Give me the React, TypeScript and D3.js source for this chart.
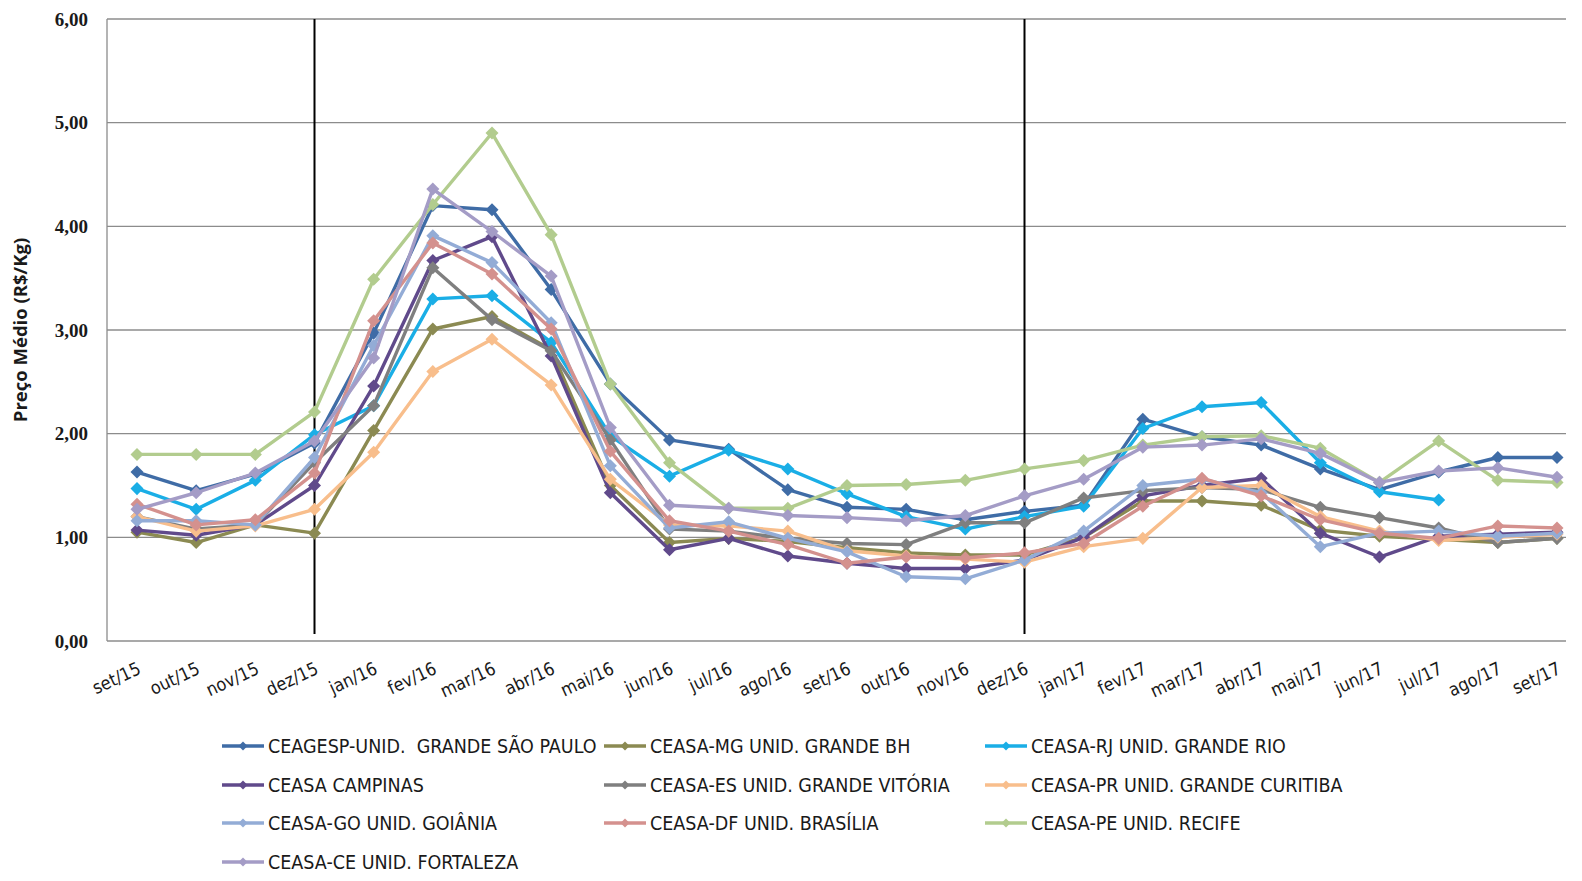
import * as d3 from 'd3';

const months = [
  'set/15', 'out/15', 'nov/15', 'dez/15', 'jan/16', 'fev/16', 'mar/16', 'abr/16',
  'mai/16', 'jun/16', 'jul/16', 'ago/16', 'set/16', 'out/16', 'nov/16', 'dez/16',
  'jan/17', 'fev/17', 'mar/17', 'abr/17', 'mai/17', 'jun/17', 'jul/17', 'ago/17', 'set/17',
];

const yTicks = [0, 1, 2, 3, 4, 5, 6];
const markerMonths = ['dez/15', 'dez/16'];

const saoPaulo = [1.63, 1.45, 1.61, 1.91, 2.97, 4.2, 4.16, 3.39, 2.48, 1.94, 1.85, 1.46, 1.29, 1.27, 1.17, 1.25, 1.31, 2.14, 1.97, 1.89, 1.66, 1.46, 1.63, 1.77, 1.77];
const beloHorizonte = [1.05, 0.95, 1.12, 1.04, 2.03, 3.01, 3.13, 2.81, 1.5, 0.95, 0.99, 0.96, 0.9, 0.85, 0.83, 0.83, 1.0, 1.35, 1.35, 1.31, 1.07, 1.01, 0.98, 0.95, 0.99];
const rio = [1.47, 1.27, 1.55, 1.99, 2.27, 3.3, 3.33, 2.88, 1.98, 1.59, 1.84, 1.66, 1.42, 1.2, 1.08, 1.2, 1.3, 2.05, 2.26, 2.3, 1.72, 1.44, 1.36, null, null];
const campinas = [1.07, 1.02, 1.12, 1.5, 2.46, 3.67, 3.9, 2.75, 1.43, 0.88, 0.99, 0.82, 0.75, 0.7, 0.7, 0.78, 1.0, 1.4, 1.5, 1.57, 1.04, 0.81, 1.01, 1.03, 1.05];
const vitoria = [1.2, 1.08, 1.12, 1.72, 2.27, 3.6, 3.1, 2.8, 1.94, 1.08, 1.06, 0.99, 0.94, 0.93, 1.14, 1.14, 1.38, 1.45, 1.48, 1.46, 1.29, 1.19, 1.09, 0.95, 0.99];
const curitiba = [1.2, 1.06, 1.11, 1.27, 1.82, 2.6, 2.91, 2.47, 1.56, 1.12, 1.11, 1.06, 0.87, 0.82, 0.79, 0.76, 0.91, 0.99, 1.48, 1.5, 1.2, 1.06, 0.97, 1.0, 1.03];
const goiania = [1.16, 1.16, 1.12, 1.77, 2.85, 3.91, 3.65, 3.07, 1.69, 1.09, 1.15, 0.99, 0.86, 0.62, 0.6, 0.78, 1.06, 1.5, 1.56, 1.43, 0.91, 1.04, 1.06, 1.01, 1.04];
const brasilia = [1.32, 1.12, 1.17, 1.62, 3.09, 3.84, 3.54, 3.01, 1.83, 1.16, 1.06, 0.93, 0.75, 0.81, 0.8, 0.85, 0.94, 1.3, 1.57, 1.4, 1.17, 1.04, 0.99, 1.11, 1.09];
const recife = [1.8, 1.8, 1.8, 2.21, 3.49, 4.21, 4.9, 3.92, 2.48, 1.72, 1.28, 1.28, 1.5, 1.51, 1.55, 1.66, 1.74, 1.89, 1.97, 1.98, 1.86, 1.53, 1.93, 1.55, 1.53];
const fortaleza = [1.27, 1.43, 1.62, 1.93, 2.73, 4.36, 3.95, 3.52, 2.06, 1.31, 1.28, 1.21, 1.19, 1.16, 1.21, 1.4, 1.56, 1.87, 1.89, 1.95, 1.81, 1.53, 1.64, 1.67, 1.58];

const seriesNames = [
  'CEAGESP-UNID.  GRANDE SÃO PAULO',
  'CEASA-MG UNID. GRANDE BH',
  'CEASA-RJ UNID. GRANDE RIO',
  'CEASA CAMPINAS',
  'CEASA-ES UNID. GRANDE VITÓRIA',
  'CEASA-PR UNID. GRANDE CURITIBA',
  'CEASA-GO UNID. GOIÂNIA',
  'CEASA-DF UNID. BRASÍLIA',
  'CEASA-PE UNID. RECIFE',
  'CEASA-CE UNID. FORTALEZA',
];
const seriesValues = [saoPaulo, beloHorizonte, rio, campinas, vitoria, curitiba, goiania, brasilia, recife, fortaleza];
const seriesColors = ['#3f6ca6', '#8b8a52', '#1aaee6', '#604a8b', '#7f7f7f', '#f8be8c', '#93acd6', '#d4918e', '#b2cc8e', '#a49cc6'];

const W = 1582;
const H = 881;
const plot = { left: 107, right: 1566, top: 19, bottom: 641 };
const fontSans = "'DejaVu Sans Condensed', 'Open Sans', sans-serif";

export default function App() {
  const x = d3.scalePoint<string>().domain(months).range([137, 1557]);
  const y = d3.scaleLinear().domain([0, 6]).range([plot.bottom, plot.top]);

  const line = d3
    .line<number | null>()
    .defined((d) => d != null)
    .x((_, i) => x(months[i]) ?? 0)
    .y((d) => y(d as number));

  const diamond = d3.symbol(d3.symbolSquare, 85)() ?? '';
  const legendDiamond = d3.symbol(d3.symbolSquare, 40)() ?? '';

  const legendCols = [222, 604, 985];
  const legendRows = [746, 785, 823, 862];

  return (
    <svg
      width={W}
      height={H}
      style={{ position: 'absolute', left: 0, top: 0, background: '#fff' }}
    >
      {/* gridlines + y labels */}
      {yTicks.map((t) => (
        <g key={`y-${t}`}>
          <line
            x1={plot.left}
            x2={plot.right}
            y1={y(t)}
            y2={y(t)}
            stroke="#8c8c8c"
            strokeWidth={1.3}
          />
          <text
            x={plot.left - 19}
            y={y(t)}
            dy="0.35em"
            textAnchor="end"
            fontSize={19}
            fontWeight={700}
            fontFamily="'Liberation Serif', 'DejaVu Serif', serif"
            fill="#1a1a1a"
          >
            {d3.format('.2f')(t).replace('.', ',')}
          </text>
        </g>
      ))}
      <line x1={plot.left} x2={plot.left} y1={plot.top} y2={plot.bottom} stroke="#8c8c8c" strokeWidth={1.3} />

      {/* period separators */}
      {markerMonths.map((m) => (
        <line
          key={`sep-${m}`}
          x1={x(m)}
          x2={x(m)}
          y1={plot.top}
          y2={plot.bottom - 7}
          stroke="#000"
          strokeWidth={2}
        />
      ))}

      {/* x labels */}
      {months.map((m) => (
        <text
          key={`x-${m}`}
          transform={`translate(${(x(m) ?? 0) + 5}, ${plot.bottom + 32}) rotate(-25)`}
          textAnchor="end"
          fontSize={18}
          fontFamily={fontSans}
          fill="#1a1a1a"
        >
          {m}
        </text>
      ))}

      {/* series */}
      {seriesValues.map((vals, si) => (
        <g key={`s-${si}`}>
          <path
            d={line(vals) ?? undefined}
            fill="none"
            stroke={seriesColors[si]}
            strokeWidth={3.4}
            strokeLinejoin="round"
          />
          {vals.map((v, i) =>
            v == null ? null : (
              <path
                key={i}
                d={diamond}
                transform={`translate(${x(months[i])}, ${y(v)}) rotate(45)`}
                fill={seriesColors[si]}
              />
            ),
          )}
        </g>
      ))}

      {/* y title */}
      <text
        transform={`translate(27, ${(plot.top + plot.bottom) / 2}) rotate(-90)`}
        textAnchor="middle"
        fontSize={18.5}
        fontWeight={700}
        fontFamily="'Open Sans', 'Liberation Sans', sans-serif"
        fill="#1a1a1a"
      >
        Preço Médio (R$/Kg)
      </text>

      {/* legend */}
      {seriesNames.map((name, i) => {
        const lx = legendCols[i % 3];
        const ly = legendRows[Math.floor(i / 3)];
        return (
          <g key={`lg-${i}`} transform={`translate(${lx}, ${ly})`}>
            <line x1={0} x2={42} y1={0} y2={0} stroke={seriesColors[i]} strokeWidth={3.4} />
            <path d={legendDiamond} transform="translate(21,0) rotate(45)" fill={seriesColors[i]} />
            <text
              x={46}
              y={0}
              dy="0.36em"
              fontSize={19.5}
              fontFamily={fontSans}
              fill="#1a1a1a"
              style={{ whiteSpace: 'pre' }}
            >
              {name}
            </text>
          </g>
        );
      })}
    </svg>
  );
}
